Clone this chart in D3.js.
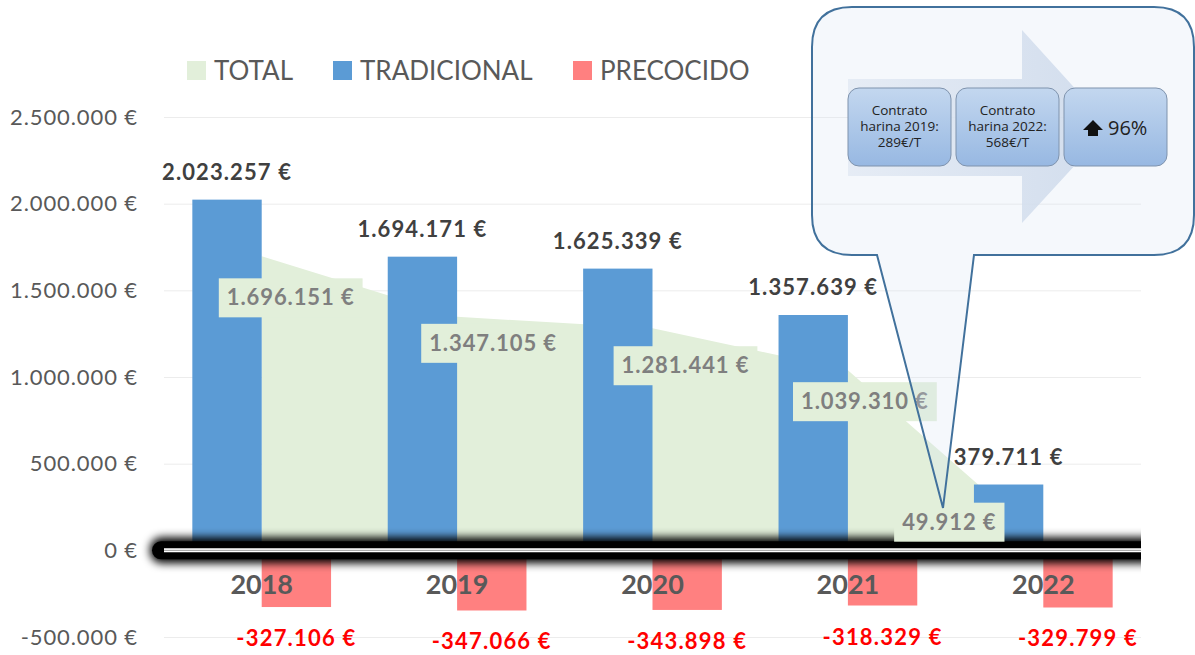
<!DOCTYPE html>
<html>
<head>
<meta charset="utf-8">
<script src="https://cdn.jsdelivr.net/npm/d3@7"></script>
<style>
  body { margin: 0; background: #fff; }
  svg { display: block; font-family: Lato, "Open Sans", sans-serif; }
</style>
</head>
<body>
<svg id="chart" width="1195" height="655"></svg>
<script>
// datos
var years = ['2018', '2019', '2020', '2021', '2022'];
var total = [1696151, 1347105, 1281441, 1039310, 49912];
var tradicional = [2023257, 1694171, 1625339, 1357639, 379711];
var precocido = [-327106, -347066, -343898, -318329, -329799];
var yTicks = [-500000, 0, 500000, 1000000, 1500000, 2000000, 2500000];
var seriesNames = ['TOTAL', 'TRADICIONAL', 'PRECOCIDO'];
var seriesColors = ['#e2efda', '#5b9bd5', '#ff8080'];

// posiciones manuales de las etiquetas de TOTAL (como en la hoja original)
var totalLabelOffset = [[29, 41], [36, 26], [33, 37], [17, 31], [-94, -20]];

var svg = d3.select('#chart');
var left = 164, right = 1141;

var locale = d3.formatLocale({decimal: ',', thousands: '.', grouping: [3], currency: ['', ''], minus: '-'});
var fmt = locale.format(',.0f');
var euro = function(v){ return fmt(v) + ' €'; };

var x = d3.scaleBand().domain(years).range([left, right]).paddingInner(0.29).paddingOuter(0.145);
var x1 = d3.scaleBand().domain(['TRADICIONAL', 'PRECOCIDO']).range([0, x.bandwidth()]);
var y = d3.scaleLinear().domain([-500000, 2500000]).range([637, 117]);

var defs = svg.append('defs');
defs.append('filter').attr('id', 'blur').attr('x', '-5%').attr('y', '-200%').attr('width', '110%').attr('height', '500%')
  .append('feGaussianBlur').attr('stdDeviation', 4);
defs.append('clipPath').attr('id', 'zclip')
  .append('rect').attr('x', 0).attr('y', 0).attr('width', right).attr('height', 655);
var g1 = defs.append('linearGradient').attr('id', 'boxGrad').attr('x1', 0).attr('y1', 0).attr('x2', 0).attr('y2', 1);
g1.append('stop').attr('offset', '0%').attr('stop-color', '#c3d7ef');
g1.append('stop').attr('offset', '100%').attr('stop-color', '#97b8e2');
var g2 = defs.append('linearGradient').attr('id', 'arrowGrad').attr('x1', 0).attr('y1', 0).attr('x2', 1).attr('y2', 0);
g2.append('stop').attr('offset', '0%').attr('stop-color', '#e3eaf4');
g2.append('stop').attr('offset', '100%').attr('stop-color', '#cbd8ea');

// rejilla + eje y
var yAxis = svg.append('g')
  .attr('transform', 'translate(' + left + ',0)')
  .call(d3.axisLeft(y).tickValues(yTicks).tickSize(-(right - left)).tickFormat(euro));
yAxis.select('.domain').remove();
yAxis.selectAll('line').attr('stroke', '#ececec');
yAxis.selectAll('text').attr('x', -26).attr('fill', '#595959')
  .style('font-size', '22px').style('letter-spacing', '0.9px').style('font-family', 'Lato, sans-serif');

// area TOTAL
var area = d3.area()
  .x(function(d, i){ return x(years[i]) + x.bandwidth() / 2; })
  .y0(y(0))
  .y1(function(d){ return y(d); });
svg.append('path').datum(total).attr('d', area).attr('fill', seriesColors[0]);

// barras
svg.append('g').selectAll('rect').data(tradicional).join('rect')
  .attr('x', function(d, i){ return x(years[i]) + x1('TRADICIONAL'); })
  .attr('y', function(d){ return y(d); })
  .attr('width', x1.bandwidth())
  .attr('height', function(d){ return y(0) - y(d); })
  .attr('fill', seriesColors[1]);
svg.append('g').selectAll('rect').data(precocido).join('rect')
  .attr('x', function(d, i){ return x(years[i]) + x1('PRECOCIDO'); })
  .attr('y', y(0))
  .attr('width', x1.bandwidth())
  .attr('height', function(d){ return y(d) - y(0); })
  .attr('fill', seriesColors[2]);

// linea del cero con sombra (cortada a la derecha)
var zg = svg.append('g').attr('clip-path', 'url(#zclip)');
zg.append('rect').attr('x', 150).attr('y', y(0) - 13).attr('width', right - 120).attr('height', 26)
  .attr('rx', 12).attr('fill', '#000').attr('filter', 'url(#blur)');
zg.append('rect').attr('x', 152).attr('y', y(0) - 9).attr('width', right - 120).attr('height', 18)
  .attr('rx', 9).attr('fill', '#000');
svg.append('line').attr('x1', left).attr('x2', right).attr('y1', y(0)).attr('y2', y(0))
  .attr('stroke', '#fff').attr('stroke-width', 4);
svg.append('line').attr('x1', left).attr('x2', right).attr('y1', y(0)).attr('y2', y(0))
  .attr('stroke', '#9a9a9a').attr('stroke-width', 1);

// eje x (años)
var xAxis = svg.append('g').attr('transform', 'translate(0,' + y(0) + ')')
  .call(d3.axisBottom(x).tickSize(0));
xAxis.select('.domain').remove();
xAxis.selectAll('text').attr('dy', 0).attr('y', 44)
  .attr('fill', '#595959').style('font-size', '27px').style('font-weight', 'bold').style('font-family', 'Lato, sans-serif');

// etiquetas TRADICIONAL
svg.append('g').selectAll('text').data(tradicional).join('text')
  .attr('x', function(d, i){ return x(years[i]) + x1('TRADICIONAL') + x1.bandwidth() / 2; })
  .attr('y', function(d){ return y(d) - 20; })
  .attr('text-anchor', 'middle')
  .attr('fill', '#404040').style('font-size', '22px').style('font-weight', 'bold').style('letter-spacing', '1.1px')
  .text(euro);

// etiquetas PRECOCIDO
svg.append('g').selectAll('text').data(precocido).join('text')
  .attr('x', function(d, i){ return x(years[i]) + x1('PRECOCIDO') + x1.bandwidth() / 2; })
  .attr('y', function(d){ return y(d) + 39; })
  .attr('text-anchor', 'middle')
  .attr('fill', '#ff0000').style('font-size', '22px').style('font-weight', 'bold').style('letter-spacing', '1.2px')
  .text(euro);

// etiquetas TOTAL con caja
var tl = svg.append('g').selectAll('g').data(total).join('g')
  .attr('transform', function(d, i){
    var cx = x(years[i]) + x.bandwidth() / 2 + totalLabelOffset[i][0];
    var cy = y(d) + totalLabelOffset[i][1];
    return 'translate(' + cx + ',' + cy + ')';
  });
tl.append('text')
  .attr('text-anchor', 'middle').attr('dy', '0.36em')
  .attr('fill', '#7f7f7f').style('font-size', '22px').style('font-weight', 'bold').style('letter-spacing', '0.9px')
  .text(euro)
  .each(function(){
    var b = this.getBBox();
    d3.select(this.parentNode).insert('rect', 'text')
      .attr('x', b.x - 8).attr('y', -19).attr('width', b.width + 16).attr('height', 39)
      .attr('fill', seriesColors[0]);
  });

// leyenda
var legX = [187, 333, 573];
var leg = svg.append('g').selectAll('g').data(seriesNames).join('g')
  .attr('transform', function(d, i){ return 'translate(' + legX[i] + ',61)'; });
leg.append('rect').attr('width', 19).attr('height', 19).attr('fill', function(d, i){ return seriesColors[i]; });
leg.append('text').attr('x', 27).attr('y', 19).attr('fill', '#595959').style('font-size', '26px').text(function(d){ return d; });

// bocadillo
var cl = 812, ct = 7, cr = 1194, cb = 255, rr = 40;
var bubble = d3.path();
bubble.moveTo(cl + rr, ct);
bubble.lineTo(cr - rr, ct);
bubble.quadraticCurveTo(cr, ct, cr, ct + rr);
bubble.lineTo(cr, cb - rr);
bubble.quadraticCurveTo(cr, cb, cr - rr, cb);
bubble.lineTo(974, cb);
bubble.lineTo(943, 508);
bubble.lineTo(877, cb);
bubble.lineTo(cl + rr, cb);
bubble.quadraticCurveTo(cl, cb, cl, cb - rr);
bubble.lineTo(cl, ct + rr);
bubble.quadraticCurveTo(cl, ct, cl + rr, ct);
bubble.closePath();
svg.append('path').attr('d', bubble.toString())
  .attr('fill', '#d6e4f3').attr('fill-opacity', 0.25)
  .attr('stroke', '#41719c').attr('stroke-width', 2);

// flecha de fondo
svg.append('path')
  .attr('d', 'M848,79 L1022,79 L1022,30 L1110,127 L1022,223 L1022,176 L848,176 Z')
  .attr('fill', 'url(#arrowGrad)').attr('opacity', 0.85);

var boxes = [
  {x: 848, lines: ['Contrato', 'harina 2019:', '289€/T']},
  {x: 956, lines: ['Contrato', 'harina 2022:', '568€/T']},
  {x: 1064, lines: []}
];
var bx = svg.append('g').selectAll('g').data(boxes).join('g')
  .attr('transform', function(d){ return 'translate(' + d.x + ',88)'; });
bx.append('rect').attr('width', 103).attr('height', 78).attr('rx', 11)
  .attr('fill', 'url(#boxGrad)').attr('stroke', '#7f93ad').attr('stroke-width', 1);
bx.each(function(d){
  var t = d3.select(this).append('text').attr('text-anchor', 'middle')
    .attr('fill', '#222').style('font-size', '13.5px').style('font-family', '"Open Sans", sans-serif');
  d.lines.forEach(function(l, i){
    t.append('tspan').attr('x', 51.5).attr('y', 27 + i * 16).text(l);
  });
});
// icono flecha arriba
svg.append('path')
  .attr('d', 'M1093,120 L1103,130 L1098,130 L1098,136 L1088,136 L1088,130 L1083,130 Z')
  .attr('fill', '#111');
svg.append('text').attr('x', 1108).attr('y', 135)
  .attr('fill', '#222').style('font-size', '20px').style('font-family', '"Open Sans", sans-serif')
  .text('96%');
</script>
</body>
</html>
